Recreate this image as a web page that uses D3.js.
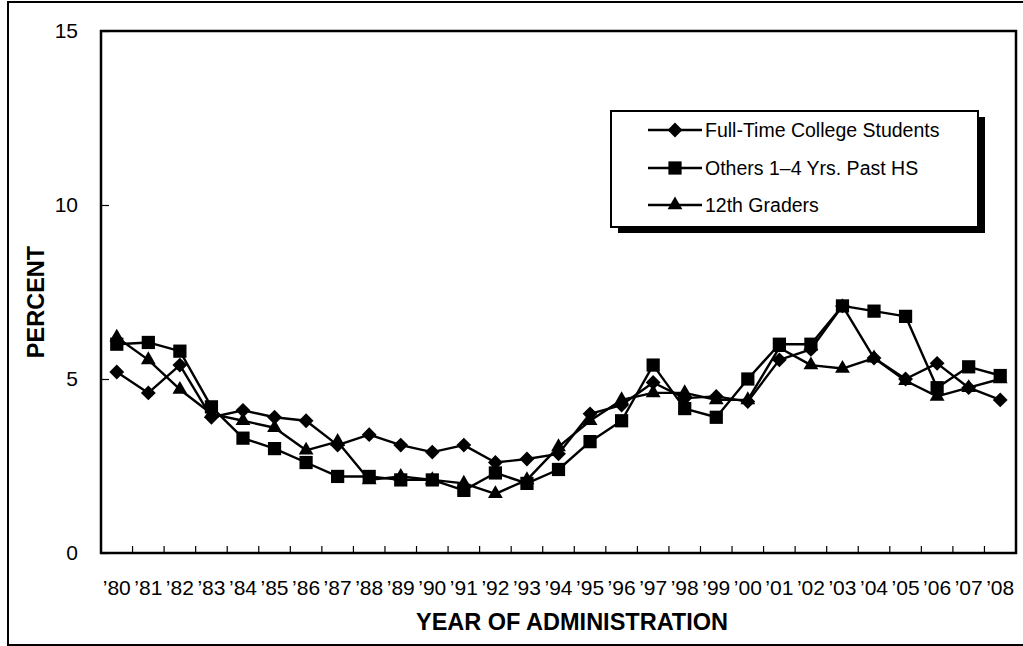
<!DOCTYPE html>
<html>
<head>
<meta charset="utf-8">
<script src="https://cdn.jsdelivr.net/npm/d3@7/dist/d3.min.js"></script>
<style>
  html, body { margin: 0; padding: 0; background: #fff; }
  svg { display: block; font-family: Arial, "Liberation Sans", sans-serif; }
</style>
</head>
<body>
<svg id="chart" width="1023" height="646"></svg>
<script>
// Survey years and percentages for each group
const years = ["80","81","82","83","84","85","86","87","88","89","90","91","92","93","94",
               "95","96","97","98","99","00","01","02","03","04","05","06","07","08"];

const fullTime = [5.2, 4.6, 5.4, 3.9, 4.1, 3.9, 3.8, 3.1, 3.4, 3.1, 2.9, 3.1, 2.6, 2.7, 2.85,
                  4.0, 4.25, 4.9, 4.45, 4.5, 4.35, 5.55, 5.85, 7.1, 5.6, 5.0, 5.45, 4.75, 4.4];

const others = [6.0, 6.05, 5.8, 4.2, 3.3, 3.0, 2.6, 2.2, 2.2, 2.1, 2.1, 1.8, 2.3, 2.0, 2.4,
                3.2, 3.8, 5.4, 4.15, 3.9, 5.0, 6.0, 6.0, 7.1, 6.95, 6.8, 4.75, 5.35, 5.1];

const grade12 = [6.2, 5.55, 4.7, 4.0, 3.8, 3.6, 2.95, 3.2, 2.1, 2.2, 2.1, 2.0, 1.7, 2.1, 3.05,
                 3.8, 4.4, 4.6, 4.6, 4.4, 4.4, 5.9, 5.4, 5.3, 5.6, 4.95, 4.5, 4.75, 5.0];

const seriesNames = ["Full-Time College Students", "Others 1\u20134 Yrs. Past HS", "12th Graders"];
const yTicks = [0, 5, 10, 15];

const series = [
  { name: seriesNames[0], values: fullTime, shape: "diamond" },
  { name: seriesNames[1], values: others, shape: "square" },
  { name: seriesNames[2], values: grade12, shape: "triangle" }
];

const svg = d3.select("#chart");
const plot = { left: 101, right: 1016, top: 31, bottom: 553 };

// Outer frame (right side runs past the canvas)
svg.append("rect")
  .attr("x", 8).attr("y", 2).attr("width", 1030).attr("height", 643)
  .attr("fill", "none").attr("stroke", "#000").attr("stroke-width", 2);

const x = d3.scaleBand().domain(years).range([plot.left, plot.right]);
const y = d3.scaleLinear().domain([0, 15]).range([plot.bottom, plot.top]);
const cx = d => x(d) + x.bandwidth() / 2;

// Plot frame
svg.append("rect")
  .attr("x", plot.left).attr("y", plot.top)
  .attr("width", plot.right - plot.left).attr("height", plot.bottom - plot.top)
  .attr("fill", "none").attr("stroke", "#000").attr("stroke-width", 2.5);

// Y axis: inward ticks
const yAxis = svg.append("g")
  .attr("transform", `translate(${plot.left},0)`)
  .call(d3.axisLeft(y).tickValues(yTicks).tickSizeInner(-8).tickSizeOuter(0).tickPadding(23));
yAxis.select(".domain").remove();
yAxis.selectAll("line").attr("stroke", "#000").attr("stroke-width", 1.2);
yAxis.selectAll("text").attr("font-size", 21).attr("fill", "#000")
  .attr("font-family", "Arial, 'Liberation Sans', sans-serif");

// X axis labels centred on each year
const xAxis = svg.append("g")
  .attr("transform", `translate(0,${plot.bottom})`)
  .call(d3.axisBottom(x).tickSize(0).tickPadding(27).tickFormat(d => "\u2019" + d));
xAxis.select(".domain").remove();
xAxis.selectAll("text").attr("font-size", 21).attr("fill", "#000")
  .attr("font-family", "Arial, 'Liberation Sans', sans-serif");

// X tick marks sit on the boundaries between years
svg.append("g").selectAll("line")
  .data(years.slice(1))
  .join("line")
  .attr("x1", d => x(d)).attr("x2", d => x(d))
  .attr("y1", plot.bottom).attr("y2", plot.bottom - 7)
  .attr("stroke", "#000").attr("stroke-width", 1.2);

// Axis titles
svg.append("text")
  .attr("x", 572).attr("y", 630)
  .attr("text-anchor", "middle")
  .attr("font-size", 23.5).attr("font-weight", "bold")
  .text("YEAR OF ADMINISTRATION");

svg.append("text")
  .attr("transform", "translate(44,302) rotate(-90)")
  .attr("text-anchor", "middle")
  .attr("font-size", 23.5).attr("font-weight", "bold")
  .text("PERCENT");

// Marker shapes
const symbolFor = {
  diamond: { path: d3.symbol(d3.symbolSquare, 110)(), rot: 45 },
  square: { path: d3.symbol(d3.symbolSquare, 175)(), rot: 0 },
  triangle: { path: d3.symbol(d3.symbolTriangle, 95)(), rot: 0 }
};

const line = d3.line().x((d, i) => cx(years[i])).y(d => y(d));

series.forEach(s => {
  const g = svg.append("g");
  g.append("path")
    .attr("d", line(s.values))
    .attr("fill", "none").attr("stroke", "#000").attr("stroke-width", 2.4)
    .attr("stroke-linejoin", "round");
  const sym = symbolFor[s.shape];
  g.selectAll("path.marker")
    .data(s.values)
    .join("path")
    .attr("class", "marker")
    .attr("d", sym.path)
    .attr("transform", (d, i) => `translate(${cx(years[i])},${y(d)}) rotate(${sym.rot})`)
    .attr("fill", "#000");
});

// Legend with drop shadow
const legend = { x: 611, y: 111, w: 367, h: 116 };
svg.append("rect")
  .attr("x", legend.x + 7).attr("y", legend.y + 6)
  .attr("width", legend.w).attr("height", legend.h)
  .attr("fill", "#000");
svg.append("rect")
  .attr("x", legend.x).attr("y", legend.y)
  .attr("width", legend.w).attr("height", legend.h)
  .attr("fill", "#fff").attr("stroke", "#000").attr("stroke-width", 2);

const legendRows = [130, 168, 205];
series.forEach((s, i) => {
  const ly = legendRows[i];
  svg.append("line")
    .attr("x1", 648).attr("x2", 702).attr("y1", ly).attr("y2", ly)
    .attr("stroke", "#000").attr("stroke-width", 2.4);
  const sym = symbolFor[s.shape];
  svg.append("path")
    .attr("d", sym.path)
    .attr("transform", `translate(675,${ly}) rotate(${sym.rot})`)
    .attr("fill", "#000");
  svg.append("text")
    .attr("x", 705).attr("y", ly).attr("dy", "0.35em")
    .attr("font-size", 19.5)
    .text(s.name);
});
</script>
</body>
</html>
